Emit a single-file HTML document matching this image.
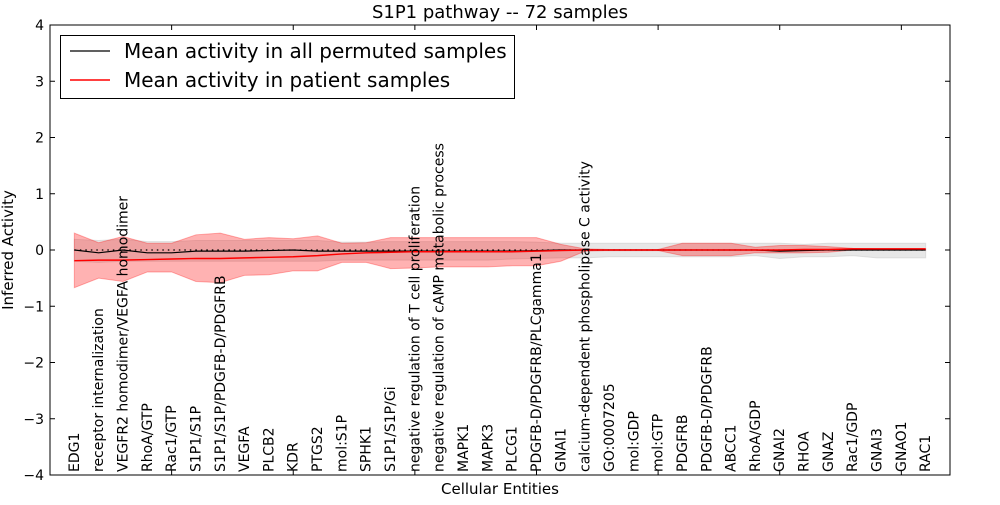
<!DOCTYPE html>
<html><head><meta charset="utf-8"><style>
body{margin:0;background:#fff;font-family:"Liberation Sans","DejaVu Sans",sans-serif}
svg text{font-family:"DejaVu Sans","Liberation Sans",sans-serif}
</style></head><body>
<svg id="chart" width="1000" height="500" xmlns="http://www.w3.org/2000/svg">
<rect width="1000" height="500" fill="#fff"/>
<g id="bands"></g><g id="lines"></g><g id="axes"></g>
</svg>
<script>
const categories=["EDG1","receptor internalization","VEGFR2 homodimer/VEGFA homodimer","RhoA/GTP","Rac1/GTP","S1P1/S1P","S1P1/S1P/PDGFB-D/PDGFRB","VEGFA","PLCB2","KDR","PTGS2","mol:S1P","SPHK1","S1P1/S1P/Gi","negative regulation of T cell proliferation","negative regulation of cAMP metabolic process","MAPK1","MAPK3","PLCG1","PDGFB-D/PDGFRB/PLCgamma1","GNAI1","calcium-dependent phospholipase C activity","GO:0007205","mol:GDP","mol:GTP","PDGFRB","PDGFB-D/PDGFRB","ABCC1","RhoA/GDP","GNAI2","RHOA","GNAZ","Rac1/GDP","GNAI3","GNAO1","RAC1"];
const patientMean=[-0.19,-0.18,-0.18,-0.17,-0.16,-0.15,-0.15,-0.14,-0.13,-0.12,-0.1,-0.07,-0.05,-0.04,-0.03,-0.03,-0.03,-0.03,-0.03,-0.02,-0.01,0,0,0,0,0,0,0,0,0,0.01,0.01,0.02,0.02,0.02,0.02];
const patientUpper=[0.3,0.13,0.24,0.12,0.12,0.27,0.3,0.19,0.22,0.2,0.25,0.12,0.13,0.22,0.22,0.22,0.22,0.22,0.22,0.22,0.1,0.02,0.01,0.01,0.01,0.12,0.12,0.12,0.05,0.08,0.08,0.06,0.03,0.02,0.02,0.02];
const patientLower=[-0.67,-0.5,-0.56,-0.39,-0.39,-0.56,-0.58,-0.45,-0.44,-0.37,-0.37,-0.22,-0.22,-0.33,-0.32,-0.3,-0.3,-0.3,-0.28,-0.28,-0.2,-0.02,-0.01,-0.01,-0.01,-0.1,-0.1,-0.1,-0.05,-0.05,-0.05,-0.04,0,0,0,0];
const permMean=[0,-0.05,0,-0.05,-0.05,-0.02,-0.02,-0.02,-0.01,0,-0.02,-0.02,-0.02,-0.02,-0.02,-0.02,-0.02,-0.02,-0.02,-0.01,0,0,0,0,0,0,0,0,0,-0.02,-0.01,0,0,0,0,0];
const permUpper=[0.19,0.17,0.19,0.15,0.15,0.17,0.17,0.17,0.17,0.17,0.17,0.14,0.14,0.15,0.15,0.15,0.15,0.15,0.15,0.14,0.12,0.12,0.12,0.12,0.12,0.12,0.12,0.12,0.12,0.12,0.1,0.12,0.12,0.12,0.12,0.12];
const permLower=[-0.2,-0.22,-0.2,-0.2,-0.2,-0.2,-0.2,-0.2,-0.2,-0.2,-0.2,-0.18,-0.18,-0.18,-0.18,-0.18,-0.18,-0.18,-0.16,-0.15,-0.14,-0.14,-0.12,-0.12,-0.12,-0.12,-0.12,-0.12,-0.1,-0.15,-0.12,-0.12,-0.1,-0.14,-0.14,-0.14];
const yTicks=[-4,-3,-2,-1,0,1,2,3,4];
const NS="http://www.w3.org/2000/svg";
const L=50,R=950,T=25,B=475;
const x=i=>L+(i+1)*(R-L)/37;
const y=v=>T+(4-v)*(B-T)/8;
function mk(tag,parent,attrs){const e=document.createElementNS(NS,tag);for(const k in attrs)e.setAttribute(k,attrs[k]);parent.appendChild(e);return e;}
function band(up,lo){let d=up.map((v,i)=>(i?"L":"M")+x(i)+","+y(v)).join("");for(let i=lo.length-1;i>=0;i--)d+="L"+x(i)+","+y(lo[i]);return d+"Z";}
function line(a){return a.map((v,i)=>(i?"L":"M")+x(i)+","+y(v)).join("");}
const bands=document.getElementById("bands"),lines=document.getElementById("lines"),axes=document.getElementById("axes");
const gb=mk("path",bands,{d:band(permUpper,permLower),fill:"#bbbbbb","fill-opacity":"0.35",stroke:"#bbbbbb","stroke-opacity":"0.4"});


const rb=mk("path",bands,{d:band(patientUpper,patientLower),fill:"#ff0000","fill-opacity":"0.3",stroke:"#ff0000","stroke-opacity":"0.3"});


const zl=mk("line",lines,{x1:x(0),x2:x(35),y1:y(0),y2:y(0),stroke:"#000","stroke-dasharray":"1.5,4","stroke-width":"1.2"});


const bl=mk("path",lines,{d:line(permMean),fill:"none",stroke:"#000","stroke-width":"1.2"});


const rl=mk("path",lines,{d:line(patientMean),fill:"none",stroke:"#ff0000","stroke-width":"1.5"});


const fr=mk("rect",axes,{x:L,y:T,width:R-L,height:B-T,fill:"none",stroke:"#000","stroke-width":"1"});


yTicks.forEach(v=>{
 mk("line",axes,{x1:L,x2:L+5,y1:y(v),y2:y(v),stroke:"#000"});
 mk("line",axes,{x1:R-5,x2:R,y1:y(v),y2:y(v),stroke:"#000"});
 const t=mk("text",axes,{x:L-6,y:y(v)+5,"text-anchor":"end","font-size":"14"});
 t.textContent=(v<0?"\u2212"+(-v):v);
 
 
});
for(let i=4;i<categories.length;i+=5){mk("line",axes,{x1:x(i),x2:x(i),y1:B,y2:B-5,stroke:"#000"});mk("line",axes,{x1:x(i),x2:x(i),y1:T,y2:T+5,stroke:"#000"});}
categories.forEach((c,i)=>{
 const t=mk("text",axes,{transform:`translate(${x(i)+4.5},472) rotate(-90)`,"font-size":"14"});
 t.textContent=c;
 
 
});
const tt=mk("text",axes,{x:500,y:18,"text-anchor":"middle","font-size":"18"});tt.textContent="S1P1 pathway -- 72 samples";


const xt=mk("text",axes,{x:500,y:494,"text-anchor":"middle","font-size":"15"});xt.textContent="Cellular Entities";


const yt=mk("text",axes,{transform:"translate(13,250) rotate(-90)","text-anchor":"middle","font-size":"15"});yt.textContent="Inferred Activity";


const lg=mk("g",axes,{});


mk("rect",lg,{x:60.5,y:35.5,width:454,height:63,fill:"#fff",stroke:"#000"});
mk("line",lg,{x1:70,x2:110,y1:51,y2:51,stroke:"#000","stroke-width":"1.2"});
mk("line",lg,{x1:70,x2:110,y1:80,y2:80,stroke:"#ff0000","stroke-width":"1.5"});
const l1=mk("text",lg,{x:124,y:58,"font-size":"20"});l1.textContent="Mean activity in all permuted samples";


const l2=mk("text",lg,{x:124,y:87,"font-size":"20"});l2.textContent="Mean activity in patient samples";


</script>
</body></html>
